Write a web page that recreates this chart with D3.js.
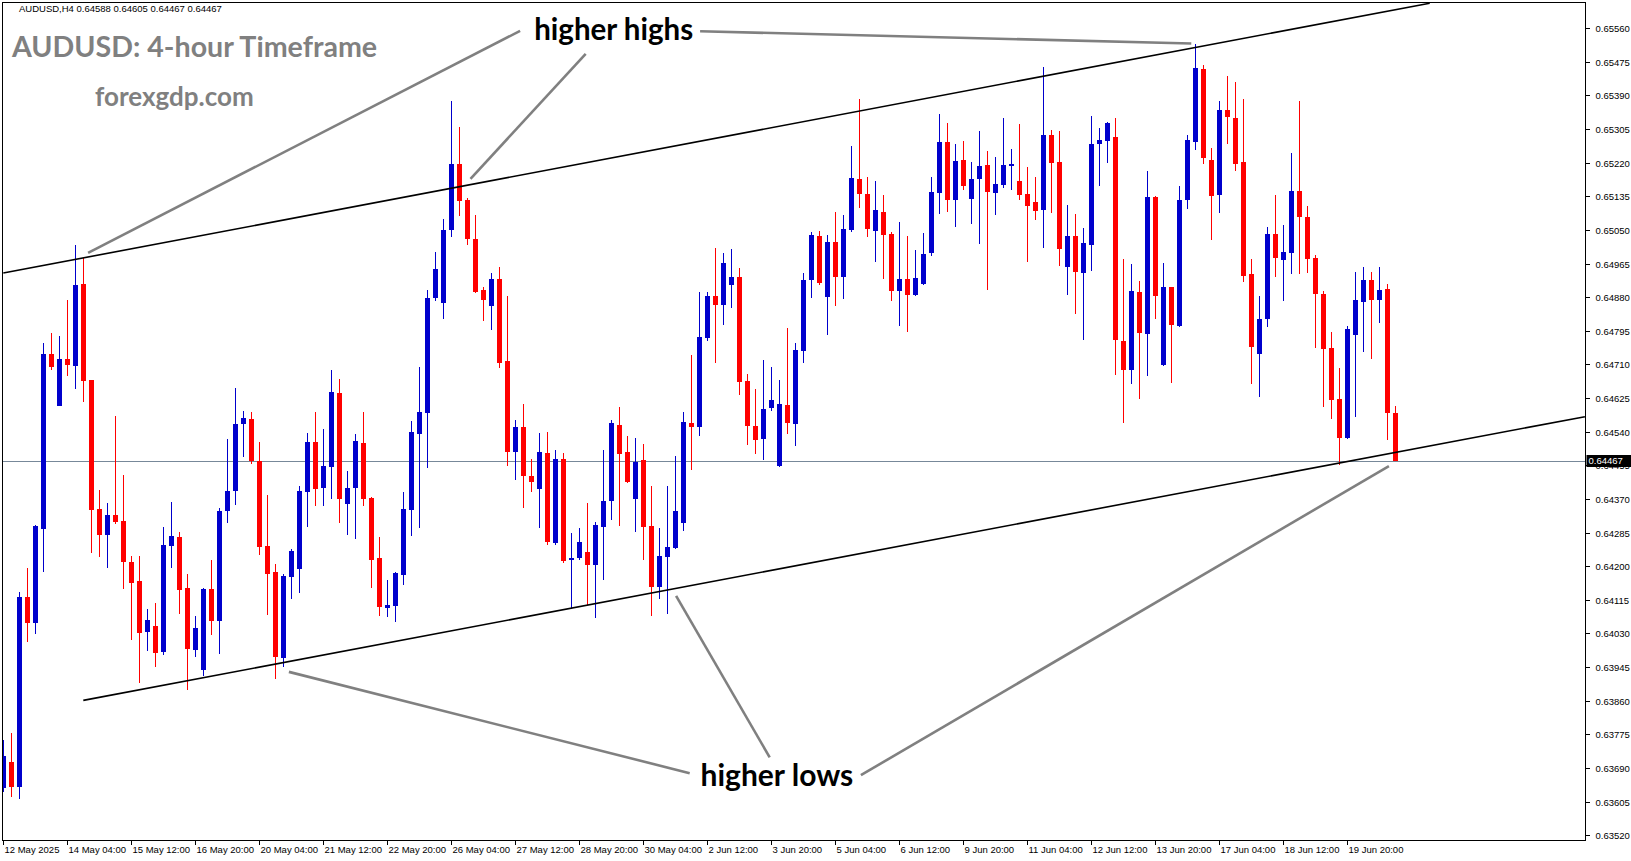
<!DOCTYPE html>
<html><head><meta charset="utf-8">
<script src="https://cdn.jsdelivr.net/npm/d3@7"></script>
<style>body{margin:0;background:#fff}svg{display:block}</style>
</head><body>
<script>
const open=[0.63640,0.63705,0.63642,0.64122,0.64057,0.64294,0.64736,0.64605,0.64723,0.64705,
0.64913,0.64670,0.64344,0.64279,0.64329,0.64314,0.64211,0.64163,0.64033,0.64049,
0.63982,0.64252,0.64273,0.64145,0.63989,0.63938,0.64142,0.64061,0.64340,0.64390,
0.64559,0.64572,0.64467,0.64251,0.64185,0.63968,0.64173,0.64193,0.64388,0.64514,
0.64398,0.64451,0.64637,0.64358,0.64398,0.64511,0.64372,0.64220,0.64095,0.64100,
0.64179,0.64342,0.64535,0.64588,0.64877,0.64866,0.65050,0.65216,0.65125,0.65026,
0.64897,0.64857,0.64927,0.64718,0.64488,0.64553,0.64429,0.64394,0.64485,0.64258,
0.64470,0.64216,0.64220,0.64237,0.64202,0.64298,0.64364,0.64558,0.64488,0.64370,
0.64468,0.64301,0.64148,0.64224,0.64246,0.64310,0.64561,0.64552,0.64777,0.64882,
0.64860,0.64911,0.64930,0.64667,0.64554,0.64522,0.64600,0.64453,0.64607,0.64560,
0.64744,0.64923,0.65034,0.64881,0.65019,0.64931,0.65050,0.65178,0.65140,0.65048,
0.65095,0.65039,0.64896,0.64925,0.64886,0.64914,0.64992,0.65144,0.65272,0.65126,
0.65226,0.65129,0.65179,0.65214,0.65144,0.65164,0.65212,0.65173,0.65140,0.65120,
0.65101,0.65290,0.65221,0.64957,0.65034,0.64942,0.65012,0.65267,0.65275,0.65284,
0.64768,0.64696,0.64892,0.64787,0.65132,0.64709,0.64905,0.64807,0.65126,0.65272,
0.65456,0.65226,0.65138,0.65352,0.65334,0.65221,0.64938,0.64737,0.64825,0.65039,
0.64974,0.64992,0.65148,0.65083,0.64979,0.64888,0.64752,0.64623,0.64525,0.64785,
0.64868,0.64923,0.64873,0.64900,0.64588];
const high=[0.63760,0.63778,0.64136,0.64195,0.64305,0.64764,0.64789,0.64782,0.64873,0.65011,
0.64978,0.64670,0.64392,0.64359,0.64580,0.64430,0.64225,0.64225,0.64092,0.64107,
0.64299,0.64363,0.64287,0.64180,0.64074,0.64145,0.64215,0.64346,0.64521,0.64650,
0.64592,0.64589,0.64513,0.64380,0.64205,0.64180,0.64244,0.64402,0.64536,0.64589,
0.64547,0.64696,0.64673,0.64441,0.64535,0.64589,0.64375,0.64273,0.64165,0.64185,
0.64388,0.64567,0.64704,0.64897,0.64994,0.65077,0.65375,0.65310,0.65131,0.65087,
0.64905,0.64940,0.64955,0.64883,0.64569,0.64609,0.64472,0.64536,0.64538,0.64493,
0.64485,0.64285,0.64296,0.64359,0.64313,0.64495,0.64569,0.64602,0.64529,0.64523,
0.64508,0.64402,0.64296,0.64402,0.64478,0.64589,0.64733,0.64892,0.64892,0.65004,
0.64991,0.65001,0.64953,0.64685,0.64647,0.64721,0.64704,0.64670,0.64802,0.64764,
0.64941,0.65044,0.65047,0.65037,0.65095,0.65087,0.65262,0.65380,0.65183,0.65173,
0.65138,0.65044,0.65069,0.65034,0.64999,0.65042,0.65183,0.65343,0.65320,0.65267,
0.65274,0.65221,0.65300,0.65249,0.65234,0.65332,0.65254,0.65317,0.65209,0.65183,
0.65461,0.65302,0.65300,0.65113,0.65090,0.65054,0.65337,0.65307,0.65322,0.65334,
0.64976,0.64963,0.64920,0.65198,0.65136,0.64966,0.64905,0.65160,0.65289,0.65519,
0.65466,0.65256,0.65377,0.65438,0.65423,0.65382,0.64976,0.64882,0.65057,0.65138,
0.65062,0.65244,0.65375,0.65110,0.64987,0.64896,0.64792,0.64701,0.64808,0.64944,
0.64956,0.64943,0.64956,0.64914,0.64605];
const low=[0.63630,0.63617,0.63611,0.64009,0.64030,0.64186,0.64696,0.64605,0.64682,0.64648,
0.64614,0.64234,0.64223,0.64195,0.64306,0.64143,0.64013,0.63904,0.63986,0.63945,
0.63975,0.64196,0.64080,0.63888,0.63971,0.63923,0.64027,0.63979,0.64310,0.64354,
0.64476,0.64458,0.64228,0.64077,0.63915,0.63946,0.64118,0.64133,0.64300,0.64352,
0.64352,0.64369,0.64310,0.64279,0.64268,0.64353,0.64146,0.64074,0.64072,0.64059,
0.64153,0.64277,0.64297,0.64448,0.64870,0.64825,0.65032,0.65085,0.65011,0.64890,
0.64821,0.64798,0.64700,0.64453,0.64417,0.64346,0.64387,0.64296,0.64253,0.64253,
0.64207,0.64093,0.64215,0.64101,0.64068,0.64164,0.64318,0.64301,0.64411,0.64287,
0.64216,0.64075,0.64117,0.64080,0.64244,0.64289,0.64443,0.64529,0.64769,0.64714,
0.64810,0.64853,0.64633,0.64507,0.64484,0.64468,0.64593,0.64450,0.64534,0.64503,
0.64714,0.64877,0.64911,0.64785,0.64858,0.64875,0.65045,0.65106,0.65032,0.64969,
0.64926,0.64871,0.64808,0.64792,0.64884,0.64912,0.64984,0.65091,0.65096,0.65058,
0.65151,0.65065,0.65015,0.64899,0.65088,0.65156,0.65151,0.65126,0.64969,0.65076,
0.65005,0.65093,0.64959,0.64886,0.64838,0.64772,0.64946,0.65161,0.65219,0.64683,
0.64562,0.64661,0.64623,0.64681,0.64825,0.64705,0.64663,0.64805,0.65103,0.65252,
0.65217,0.65025,0.65093,0.65267,0.65199,0.64918,0.64661,0.64628,0.64805,0.64931,
0.64871,0.64939,0.64939,0.64941,0.64752,0.64603,0.64573,0.64455,0.64522,0.64578,
0.64742,0.64724,0.64815,0.64519,0.64467];
const close=[0.63720,0.63642,0.64122,0.64057,0.64302,0.64736,0.64703,0.64723,0.64709,0.64910,
0.64669,0.64343,0.64279,0.64329,0.64311,0.64211,0.64158,0.64031,0.64063,0.63981,
0.64253,0.64276,0.64140,0.63990,0.64043,0.64142,0.64061,0.64340,0.64391,0.64559,
0.64574,0.64466,0.64248,0.64180,0.63970,0.64176,0.64238,0.64390,0.64513,0.64395,
0.64453,0.64640,0.64370,0.64397,0.64516,0.64370,0.64216,0.64098,0.64102,0.64183,
0.64344,0.64539,0.64589,0.64877,0.64950,0.65051,0.65216,0.65124,0.65027,0.64894,
0.64872,0.64925,0.64713,0.64488,0.64553,0.64428,0.64412,0.64488,0.64260,0.64470,
0.64212,0.64222,0.64260,0.64202,0.64303,0.64366,0.64561,0.64483,0.64413,0.64463,
0.64299,0.64148,0.64225,0.64248,0.64339,0.64564,0.64552,0.64779,0.64882,0.64860,
0.64966,0.64930,0.64666,0.64555,0.64519,0.64597,0.64619,0.64610,0.64562,0.64746,
0.64923,0.65037,0.64916,0.65019,0.64931,0.65052,0.65181,0.65141,0.65053,0.65100,
0.65037,0.64896,0.64925,0.64886,0.64928,0.64989,0.65145,0.65272,0.65126,0.65224,
0.65161,0.65178,0.65211,0.65146,0.65166,0.65214,0.65216,0.65139,0.65111,0.65098,
0.65290,0.65220,0.65002,0.65034,0.64944,0.65017,0.65266,0.65276,0.65319,0.64772,
0.64696,0.64895,0.64790,0.65132,0.64883,0.64905,0.64810,0.65125,0.65276,0.65458,
0.65232,0.65136,0.65352,0.65335,0.65217,0.64934,0.64754,0.64824,0.65039,0.64979,
0.64994,0.65148,0.65083,0.64977,0.64888,0.64749,0.64621,0.64525,0.64800,0.64872,
0.64923,0.64873,0.64898,0.64586,0.64467];

const timeLabels=["12 May 2025","14 May 04:00","15 May 12:00","16 May 20:00","20 May 04:00","21 May 12:00","22 May 20:00","26 May 04:00","27 May 12:00","28 May 20:00","30 May 04:00","2 Jun 12:00","3 Jun 20:00","5 Jun 04:00","6 Jun 12:00","9 Jun 20:00","11 Jun 04:00","12 Jun 12:00","13 Jun 20:00","17 Jun 04:00","18 Jun 12:00","19 Jun 20:00"];
const timeLabelIndex=[0,8,16,24,32,40,48,56,64,72,80,88,96,104,112,120,128,136,144,152,160,168];
const priceTicks=["0.65560","0.65475","0.65390","0.65305","0.65220","0.65135","0.65050","0.64965","0.64880","0.64795","0.64710","0.64625","0.64540","0.64455","0.64370","0.64285","0.64200","0.64115","0.64030","0.63945","0.63860","0.63775","0.63690","0.63605","0.63520"];
const lastPrice=0.64467;
const headerText="AUDUSD,H4  0.64588 0.64605 0.64467 0.64467";
// trend lines: [index, price] pairs
const upperChannel=[[0,0.64941],[178.3,0.65623]];
const lowerChannel=[[10.0,0.63861],[197.7,0.64578]];
const pointerLines=[
  [[64.6,0.65553],[10.6,0.64992]],
  [[72.8,0.65495],[58.4,0.65179]],
  [[87.1,0.65552],[148.5,0.65521]],
  [[85.8,0.63677],[35.7,0.63933]],
  [[95.8,0.63717],[84.1,0.64125]],
  [[107.2,0.63672],[173.2,0.64453]]
];
const notes=[{text:"higher highs",i:76.3,p:0.65555,size:29.5},{text:"higher lows",i:96.7,p:0.63672,size:30}];

const W=1631,H=861;
const L=2.5,T=2.5,R=1585.5,B=840.5;
const svg=d3.select("body").append("svg").attr("width",W).attr("height",H);
svg.append("rect").attr("width",W).attr("height",H).attr("fill","#fff");
const x=d3.scaleLinear().domain([0,174]).range([3.3,1395.3]);
const y=d3.scaleLinear().domain([0.63520,0.65560]).range([835.3,28.1]);

svg.append("defs").append("clipPath").attr("id","clip").append("rect")
  .attr("x",L+0.5).attr("y",T).attr("width",R-L-1).attr("height",B-T);
const g=svg.append("g").attr("clip-path","url(#clip)");

// current price line
g.append("line").attr("x1",L).attr("x2",R).attr("y1",Math.round(y(lastPrice))+0.5).attr("y2",Math.round(y(lastPrice))+0.5)
  .attr("stroke","#778899").attr("stroke-width",1);

const data=open.map((o,i)=>({i,o,h:high[i],l:low[i],c:close[i]}));
const col=d=>d.c>=d.o?"#0000CC":"#FF0000";
const cg=g.append("g").attr("shape-rendering","crispEdges");
cg.selectAll("line.w").data(data).join("line").attr("class","w")
  .attr("x1",d=>Math.round(x(d.i))+0.5).attr("x2",d=>Math.round(x(d.i))+0.5)
  .attr("y1",d=>y(d.h)).attr("y2",d=>y(d.l)).attr("stroke",col).attr("stroke-width",1);
cg.selectAll("rect.b").data(data).join("rect").attr("class","b")
  .attr("x",d=>Math.round(x(d.i))-2).attr("width",5)
  .attr("y",d=>y(Math.max(d.o,d.c))).attr("height",d=>Math.max(1,Math.abs(y(d.o)-y(d.c))))
  .attr("fill",col);

// channel lines
const ln=d3.line().x(d=>x(d[0])).y(d=>y(d[1]));
[upperChannel,lowerChannel].forEach(c=>g.append("path").attr("d",ln(c)).attr("stroke","#000").attr("stroke-width",1.6).attr("fill","none"));
pointerLines.forEach(c=>g.append("path").attr("d",ln(c)).attr("stroke","#808080").attr("stroke-width",2.6).attr("fill","none"));

// frame
svg.append("rect").attr("x",L).attr("y",T).attr("width",R-L).attr("height",B-T).attr("fill","none").attr("stroke","#000").attr("stroke-width",1).attr("shape-rendering","crispEdges");

// y axis
const ya=svg.append("g").attr("font-family","Liberation Sans, Arial, sans-serif").attr("font-size",9.5);
priceTicks.forEach(t=>{
  const yy=Math.round(y(+t))+0.5;
  ya.append("line").attr("x1",R).attr("x2",R+4).attr("y1",yy).attr("y2",yy).attr("stroke","#000").attr("shape-rendering","crispEdges");
  ya.append("text").attr("x",R+10).attr("y",yy).attr("dy","0.35em").attr("fill","#000").text(t);
});
const ly=Math.round(y(lastPrice));
ya.append("rect").attr("x",R+1).attr("y",ly-6).attr("width",W-R-1).attr("height",12).attr("fill","#000");
ya.append("text").attr("x",R+3).attr("y",ly).attr("dy","0.35em").attr("fill","#fff").text(lastPrice.toFixed(5));

// x axis
const xa=svg.append("g").attr("font-family","Liberation Sans, Arial, sans-serif").attr("font-size",9.5);
timeLabelIndex.forEach((idx,k)=>{
  const xx=Math.round(x(idx))+0.5;
  xa.append("line").attr("x1",xx).attr("x2",xx).attr("y1",B).attr("y2",B+4).attr("stroke","#000").attr("shape-rendering","crispEdges");
  xa.append("text").attr("x",xx+1).attr("y",853).attr("fill","#000").text(timeLabels[k]);
});

// header
svg.append("text").attr("x",19).attr("y",12).attr("font-family","Liberation Sans, Arial, sans-serif").attr("font-size",9.5).attr("fill","#000").text(headerText);
svg.append("text").attr("x",12).attr("y",57).attr("font-family","Lato, sans-serif").attr("font-weight","bold").attr("font-size",28.6).attr("fill","#808080").text("AUDUSD: 4-hour Timeframe");
svg.append("text").attr("x",95).attr("y",106).attr("font-family","Lato, sans-serif").attr("font-weight","bold").attr("font-size",26).attr("fill","#808080").text("forexgdp.com");

notes.forEach(n=>svg.append("text").attr("x",x(n.i)).attr("y",y(n.p)).attr("dy","0.35em").attr("text-anchor","middle")
  .attr("font-family","Lato, sans-serif").attr("font-weight","bold").attr("font-size",n.size).attr("fill","#000").text(n.text));
</script>
</body></html>
